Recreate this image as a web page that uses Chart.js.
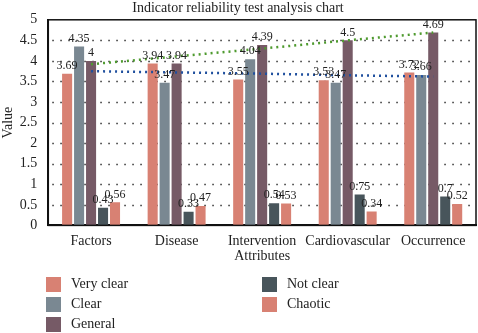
<!DOCTYPE html>
<html>
<head>
<meta charset="utf-8">
<script src="https://cdn.jsdelivr.net/npm/chart.js@4"></script>
<style>
body { margin: 0; background: #fff; }
#wrap { position: relative; width: 478px; height: 333px; }
#legend { position: absolute; left: 46px; top: 277px; width: 430px; font: 14px "Liberation Serif", serif; color: #222; }
#legend .item { position: absolute; height: 16px; line-height: 16px; white-space: nowrap; }
#legend .box { position: absolute; left: 0; top: 0; width: 15px; height: 15px; }
#legend .txt { position: absolute; left: 25px; top: -1px; }
</style>
</head>
<body>
<div id="wrap">
  <canvas id="chart" width="478" height="333"></canvas>
  <div id="legend"></div>
</div>
<script>
// data
var categories = ['Factors', 'Disease', 'Intervention', 'Cardiovascular', 'Occurrence'];
var veryClear = [3.69, 3.94, 3.55, 3.53, 3.72];
var clear = [4.35, 3.47, 4.04, 3.47, 3.66];
var general = [4, 3.94, 4.39, 4.5, 4.69];
var notClear = [0.43, 0.33, 0.54, 0.75, 0.7];
var chaotic = [0.56, 0.47, 0.53, 0.34, 0.52];
// dotted trend lines as drawn
var trendGeneral = [3.92, 4.11, 4.30, 4.50, 4.69];
var trendVeryClear = [3.75, 3.72, 3.69, 3.65, 3.62];
var yTicks = [0, 0.5, 1, 1.5, 2, 2.5, 3, 3.5, 4, 4.5, 5];

var serif = '"Liberation Serif", serif';

function bar(label, data, color) {
    return {
        type: 'bar',
        label: label,
        data: data,
        backgroundColor: color,
        borderWidth: 0,
        barPercentage: 0.84,
        categoryPercentage: 0.7,
        order: 2
    };
}

function trend(data, color) {
    return {
        type: 'line',
        label: '',
        data: data,
        borderColor: color,
        borderWidth: 2.5,
        borderDash: [2, 4],
        pointRadius: 0,
        fill: false,
        order: 0
    };
}

// dotted grid under the bars
var grid = {
    id: 'grid',
    beforeDatasetsDraw: function (chart) {
        var ctx = chart.ctx, a = chart.chartArea, y = chart.scales.y;
        ctx.save();
        ctx.strokeStyle = '#333';
        ctx.lineWidth = 1.5;
        ctx.setLineDash([1.5, 6.5]);
        yTicks.forEach(function (v) {
            if (v === 0 || v === 5) return;
            var py = Math.round(y.getPixelForValue(v)) + 0.5;
            ctx.beginPath();
            ctx.moveTo(a.left + 4, py);
            ctx.lineTo(a.right, py);
            ctx.stroke();
        });
        ctx.restore();
    }
};

// value labels over bars + frame around plot
var extras = {
    id: 'extras',
    afterDatasetsDraw: function (chart) {
        var ctx = chart.ctx;
        ctx.save();
        ctx.font = '12px ' + serif;
        ctx.fillStyle = '#222';
        ctx.textAlign = 'center';
        ctx.textBaseline = 'bottom';
        chart.data.datasets.forEach(function (ds, i) {
            if (ds.type !== 'bar') return;
            chart.getDatasetMeta(i).data.forEach(function (el, j) {
                ctx.fillText(String(ds.data[j]), el.x, el.y - 2);
            });
        });
        var a = chart.chartArea;
        ctx.strokeStyle = '#111';
        ctx.lineWidth = 1.5;
        ctx.strokeRect(a.left, a.top, a.right - a.left, a.bottom - a.top);
        ctx.restore();
    }
};

var ctx = document.getElementById('chart').getContext('2d');
var chart = new Chart(ctx, {
    data: {
        labels: categories,
        datasets: [
            bar('Very clear', veryClear, '#d88173'),
            bar('Clear', clear, '#7a8892'),
            bar('General', general, '#765a66'),
            bar('Not clear', notClear, '#48555b'),
            bar('Chaotic', chaotic, '#d88173'),
            trend(trendGeneral, '#4e9a2e'),
            trend(trendVeryClear, '#1f4f9e')
        ]
    },
    options: {
        responsive: false,
        animation: false,
        layout: { padding: { top: 0, right: 2, bottom: 68, left: 0 } },
        plugins: {
            legend: { display: false },
            tooltip: { enabled: false },
            title: {
                display: true,
                text: 'Indicator reliability test analysis chart',
                font: { family: serif, size: 14, weight: 'normal' },
                color: '#222',
                padding: { top: 0, bottom: 3 }
            }
        },
        scales: {
            x: {
                grid: { display: false },
                border: { color: '#111', width: 2 },
                ticks: { font: { family: serif, size: 14 }, color: '#222', padding: 0, maxRotation: 0, autoSkip: false },
                title: { display: true, text: 'Attributes', font: { family: serif, size: 14 }, color: '#222', padding: { top: -2, bottom: 0 } }
            },
            y: {
                min: 0,
                max: 5,
                afterBuildTicks: function (axis) {
                    axis.ticks = yTicks.map(function (v) { return { value: v }; });
                },
                grid: { display: false },
                border: { color: '#111', width: 2 },
                ticks: {
                    font: { family: serif, size: 14 }, color: '#222', padding: 3, autoSkip: false,
                    callback: function (v) { return String(v); }
                },
                title: { display: true, text: 'Value', font: { family: serif, size: 14 }, color: '#222', padding: 0 }
            }
        }
    },
    plugins: [grid, extras]
});

// html legend, two columns
var leg = document.getElementById('legend');
var bars = chart.data.datasets.filter(function (d) { return d.type === 'bar'; });
bars.forEach(function (d, i) {
    var col = i < 3 ? 0 : 1;
    var row = i < 3 ? i : i - 3;
    var item = document.createElement('div');
    item.className = 'item';
    item.style.left = (col * 216) + 'px';
    item.style.top = (row * 20) + 'px';
    item.innerHTML = '<span class="box" style="background:' + d.backgroundColor + '"></span><span class="txt"></span>';
    item.querySelector('.txt').textContent = d.label;
    leg.appendChild(item);
});
</script>
</body>
</html>
